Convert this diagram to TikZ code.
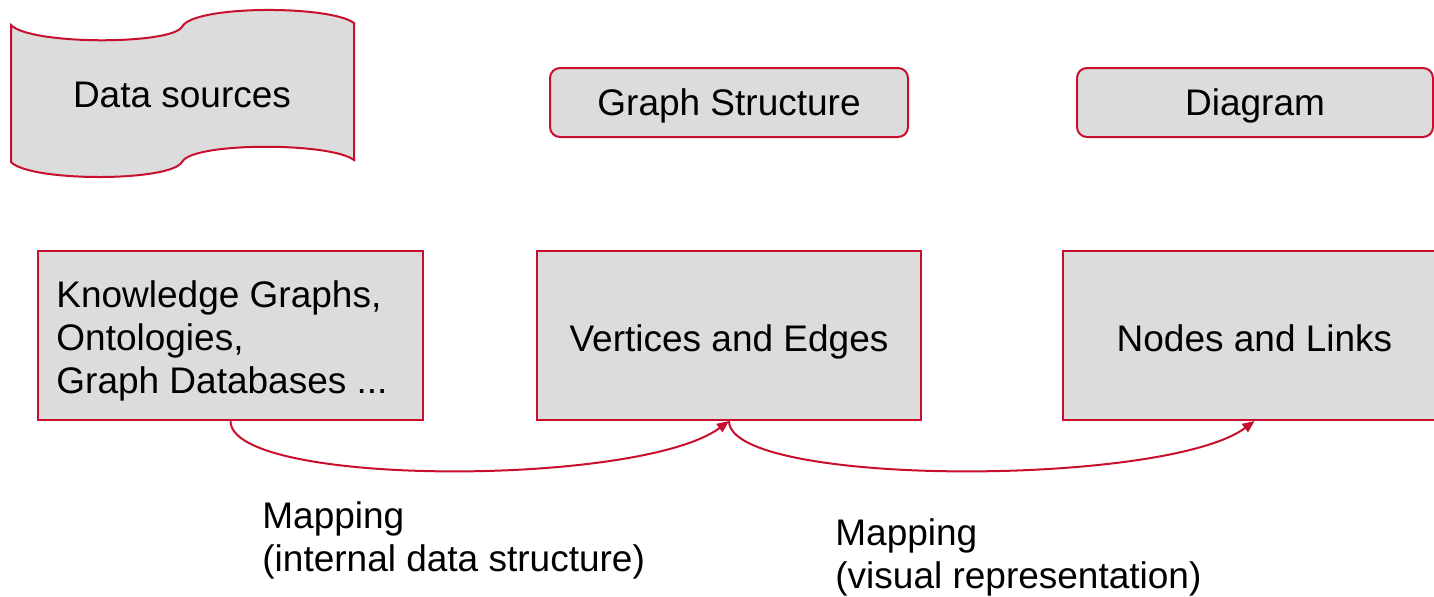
\documentclass[tikz,border=0pt]{standalone}
\usepackage{fontspec}
\setmainfont{Liberation Sans}
\usetikzlibrary{arrows.meta}
\definecolor{rd}{RGB}{200,16,46}
\definecolor{gy}{RGB}{220,220,220}
\tikzset{
  box/.style={draw=rd, fill=gy, line width=1pt, inner sep=0pt, minimum height=84.5pt, text height=15.7pt, text depth=0pt},
  rbox/.style={draw=rd, fill=gy, line width=1pt, rounded corners=5pt, inner sep=0pt, minimum height=34.5pt, text height=13.2pt, text depth=0pt},
  txt/.style={font=\fontsize{18.5}{21.5}\selectfont, text=black},
  lbl/.style={txt, align=left, anchor=north west, inner sep=0pt},
  conn/.style={draw=rd, line width=1pt, -{Triangle[length=6pt,width=5pt]}}
}
\begin{document}
\begin{tikzpicture}[x=0.5pt,y=-0.5pt]
\useasboundingbox (0,0) rectangle (1434,596);
% data sources tape
\path[draw=rd, fill=gy, line width=1pt]
  (11,25) .. controls (30,45) and (170,45) .. (182,27)
  .. controls (192,5) and (330,5) .. (354,23)
  -- (354,160)
  .. controls (330,142) and (192,142) .. (182,162)
  .. controls (170,182) and (30,182) .. (11,162) -- cycle;
\node[txt] (ds) at (182,95) {Data sources};
\node[rbox, txt, minimum width=179pt] (gs) at (729,102.5) {Graph Structure};
\node[rbox, txt, minimum width=178pt] (dg) at (1255,102.5) {Diagram};
\node[box, minimum width=192.5pt] (kg) at (230.5,335.5) {};
\node[lbl, anchor=west] (kgt) at (56,340.5) {Knowledge Graphs,\\Ontologies,\\Graph Databases ...};
\node[box, txt, minimum width=192pt] (ve) at (729,335.5) {Vertices and Edges};
\node[box, txt, minimum width=191.5pt] (nl) at (1254.5,335.5) {Nodes and Links};
\path[conn] (kg.south) .. controls ++(0,66) and ++(-89,66) .. (ve.south);
\path[conn] (ve.south) .. controls ++(0,66) and ++(-89,66) .. (nl.south);
\node[lbl] (m1) at (262,501.5) {Mapping\\(internal data structure)};
\node[lbl] (m2) at (835,518.5) {Mapping\\(visual representation)};
\end{tikzpicture}
\end{document}
